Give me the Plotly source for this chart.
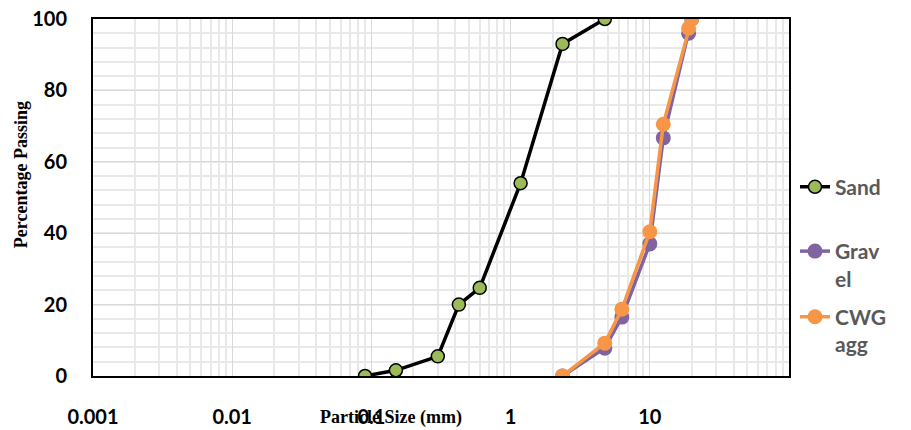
import plotly.graph_objects as go

# Sieve analysis data: particle size (mm) vs. percentage passing
sand_size = [0.09, 0.15, 0.3, 0.425, 0.6, 1.18, 2.36, 4.75]
sand_pass = [0, 1.6, 5.5, 20, 24.7, 54, 93, 100]

gravel_size = [2.36, 4.75, 6.3, 10, 12.5, 19, 20]
gravel_pass = [0, 7.8, 16.5, 37, 66.7, 96, 100]

cwg_size = [2.36, 4.75, 6.3, 10, 12.5, 19, 20]
cwg_pass = [0, 9.2, 18.7, 40.4, 70.5, 97.4, 100]

x_tickvals = [0.001, 0.01, 0.1, 1, 10]
x_ticktext = ["0.001", "0.01", "0.1", "1", "10"]
y_tickvals = [0, 20, 40, 60, 80, 100]

minor_x = [k * 10 ** e for e in range(-3, 2) for k in range(2, 10)]

TICK_FONT = dict(family="Lato", size=20, color="black", weight=700)
LEG_FONT = dict(family="Lato", size=21, color="#595959", weight=700)
TITLE_FONT = dict(family="Liberation Serif", size=18, color="black", weight=700)

fig = go.Figure()
fig.add_trace(go.Scatter(
    x=sand_size, y=sand_pass, name="Sand", mode="lines+markers",
    line=dict(color="black", width=3.5),
    marker=dict(size=13, color="#9BBB59", line=dict(color="black", width=1.5)),
    legend="legend",
))
fig.add_trace(go.Scatter(
    x=gravel_size, y=gravel_pass, name="Grav<br>el", mode="lines+markers",
    line=dict(color="#8064A2", width=3.5),
    marker=dict(size=15, color="#8064A2"),
    legend="legend2",
))
fig.add_trace(go.Scatter(
    x=cwg_size, y=cwg_pass, name="CWG<br>agg", mode="lines+markers",
    line=dict(color="#F79646", width=3.5),
    marker=dict(size=15, color="#F79646"),
    legend="legend3",
))

legend_common = dict(
    x=1.0086, xanchor="left", yanchor="middle", valign="top",
    font=LEG_FONT, bgcolor="rgba(0,0,0,0)", borderwidth=0,
)

fig.update_layout(
    width=911, height=430,
    margin=dict(l=93, r=122, t=19, b=54, autoexpand=False),
    paper_bgcolor="white", plot_bgcolor="white",
    showlegend=True,
    legend=dict(y=0.529, **legend_common),
    legend2=dict(y=0.311, **legend_common),
    legend3=dict(y=0.127, **legend_common),
    xaxis=dict(
        type="log", range=[-3, 2], automargin=False,
        tickmode="array", tickvals=x_tickvals, ticktext=x_ticktext,
        tickfont=TICK_FONT, ticks="", ticklabelstandoff=22,
        showgrid=True, gridcolor="#d9d9d9", gridwidth=1,
        minor=dict(tickmode="array", tickvals=minor_x, showgrid=True,
                   gridcolor="#e9e9e9", gridwidth=1.5, ticks=""),
        showline=True, linecolor="black", linewidth=2, mirror=True,
        zeroline=False,
    ),
    yaxis=dict(
        range=[0, 100], automargin=False,
        tickmode="array", tickvals=y_tickvals,
        tickfont=TICK_FONT, ticks="", ticklabelstandoff=20,
        showgrid=True, gridcolor="#d9d9d9", gridwidth=1,
        minor=dict(dtick=4, showgrid=True, gridcolor="#e9e9e9",
                   gridwidth=1.5, ticks=""),
        showline=True, linecolor="black", linewidth=2, mirror=True,
        zeroline=False,
    ),
    annotations=[
        dict(text="Particle Size (mm)", xref="paper", yref="paper",
             x=0.428, y=-0.1158, xanchor="center", yanchor="middle",
             showarrow=False, font=TITLE_FONT),
        dict(text="Percentage Passing", xref="paper", yref="paper",
             x=-0.1034, y=0.5627, xanchor="center", yanchor="middle",
             textangle=-90, showarrow=False, font=TITLE_FONT),
    ],
)

fig.write_html("out.html")
